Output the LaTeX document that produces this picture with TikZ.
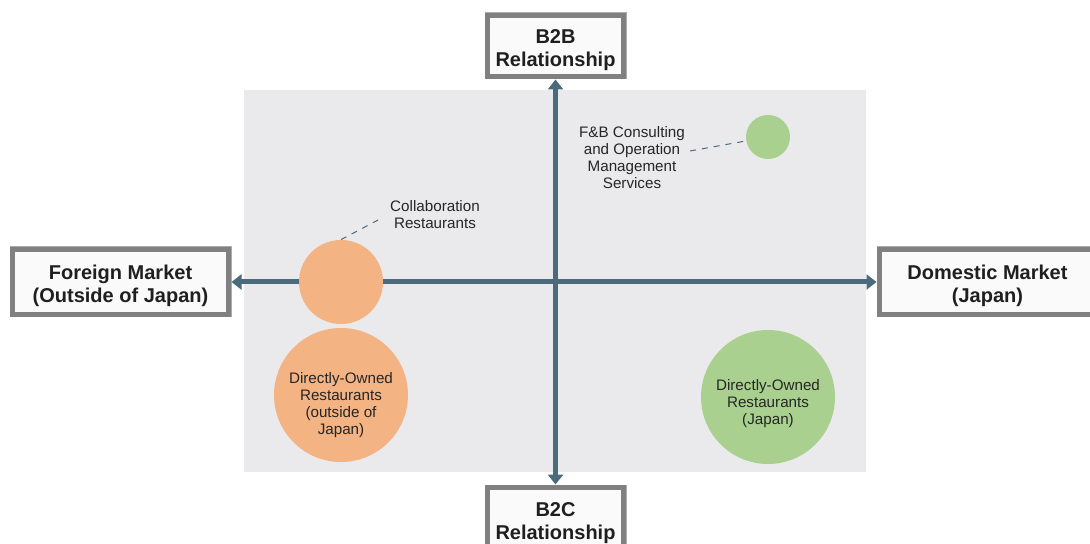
\documentclass[tikz,border=0pt]{standalone}
\usepackage{fontspec}
\setmainfont{Liberation Sans}
\usepackage{xcolor}
\usetikzlibrary{arrows.meta,positioning}
\definecolor{axisblue}{HTML}{4B6A7B}
\definecolor{panelgray}{HTML}{EAEAEC}
\definecolor{peach}{HTML}{F3B383}
\definecolor{leaf}{HTML}{A9D08E}

\begin{document}
\begin{tikzpicture}[
   x=0.5pt, y=-0.5pt,
   font=\fontsize{7.6}{8.5}\selectfont,
   box/.style={draw=gray!65,line width=0.5pt,fill=gray!4,align=center,inner sep=2pt,
     text height=21pt,text depth=0pt,
     text=black!88,font=\fontsize{10}{11.5}\selectfont\bfseries},
   market/.style={box,minimum width=110.5pt,minimum height=35pt},
   rel/.style={box,minimum width=70.5pt,minimum height=33pt},
   blob/.style={circle,inner sep=0pt},
   note/.style={align=center,text=black!85},
   axis/.style={draw=axisblue,line width=2.5pt},
   lead/.style={draw=axisblue,dashed,line width=0.5pt},
   >={Triangle[length=5pt,width=7.5pt]}]
 \useasboundingbox (0,0) rectangle (1090,544);
 \clip (0,0) rectangle (1090,544);
 % quadrant panel
 \fill[panelgray] (244,90) rectangle (866,472);
 \node[rel] (b2b) at (555.5,46) {B2B\\Relationship};
 \node[rel] (b2c) at (555.5,518) {B2C\\Relationship};
 \node[market] (foreign) at (120.5,282) {Foreign Market\\(Outside of Japan)};
 \node[market] (domestic) at (987.5,282) {Domestic Market\\(Japan)};
 % inner shade of the boxes
 \foreach \b in {b2b,b2c,foreign,domestic}
   \foreach \i [evaluate=\i as \op using 0.3-0.055*\i] in {1,...,5}
     \draw[gray,opacity=\op,line width=0.5pt]
       ([xshift=\i*0.5pt,yshift=-\i*0.5pt]\b.north west) rectangle ([xshift=-\i*0.5pt,yshift=\i*0.5pt]\b.south east);
 \draw[axis,<->] (foreign.east) -- (domestic.west);
 \draw[axis,<->] (b2b.south) -- (b2c.north);
 % businesses
 \node[blob,fill=peach,minimum size=42pt] (collab) at (341,282) {};
 \node[blob,fill=peach,minimum size=67pt] (ownabroad) at (341,395) {};
 \node[blob,fill=leaf,minimum size=22pt] (fb) at (768,137) {};
 \node[blob,fill=leaf,minimum size=67pt] (ownjp) at (768,397) {};
 \node[note] (abroadtxt) at ([yshift=-5pt]ownabroad.center) {Directly-Owned\\Restaurants\\(outside of\\Japan)};
 \node[note] (jptxt) at ([yshift=-3.5pt]ownjp.center) {Directly-Owned\\Restaurants\\(Japan)};
 \node[note] (collabtxt) at (435,215) {Collaboration\\Restaurants};
 \node[note] (fbtxt) at (632,158) {F\&B Consulting\\and Operation\\Management\\Services};
 \coordinate (collabend) at (380,219);
 \coordinate (fbend) at (690,151);
 \draw[lead] (collab.north) -- (collabend);
 \draw[lead] (fbend) -- (fb);
\end{tikzpicture}
\end{document}
